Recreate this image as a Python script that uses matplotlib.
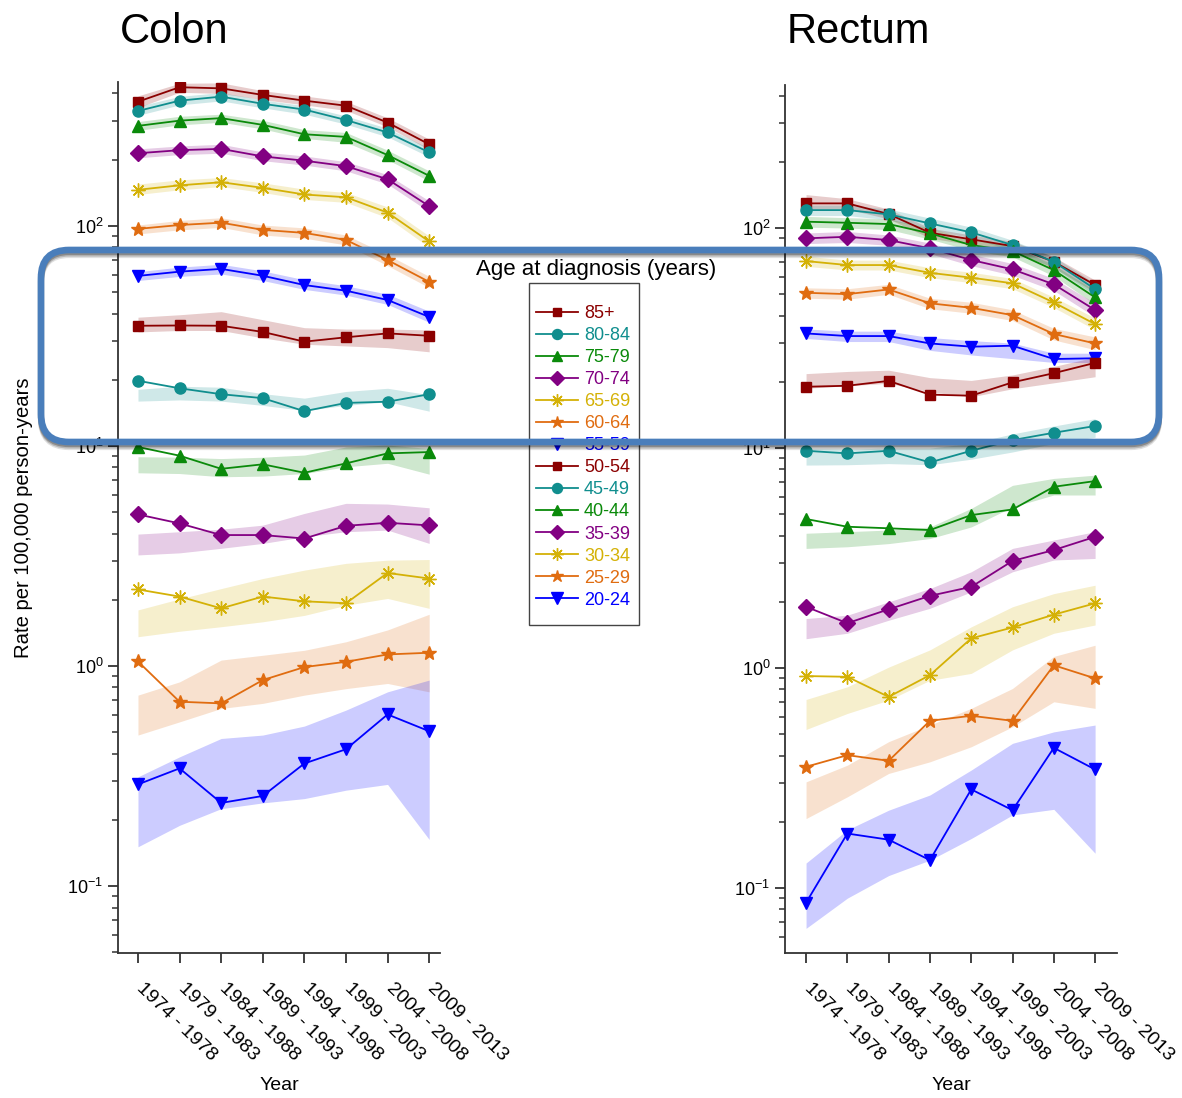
import matplotlib
matplotlib.use("Agg")
import matplotlib.pyplot as plt
import matplotlib.transforms as mtransforms
from matplotlib.patches import FancyBboxPatch, Rectangle
from matplotlib.ticker import LogLocator, NullFormatter

plt.rcParams["font.family"] = ["Liberation Sans", "DejaVu Sans"]

# -------------------------
# Data (rate per 100,000)
# -------------------------
periods = ["1974 - 1978", "1979 - 1983", "1984 - 1988", "1989 - 1993",
           "1994 - 1998", "1999 - 2003", "2004 - 2008", "2009 - 2013"]

ages = ["85+", "80-84", "75-79", "70-74", "65-69", "60-64", "55-59",
        "50-54", "45-49", "40-44", "35-39", "30-34", "25-29", "20-24"]

colon_rate = [
    [367, 427, 422, 394, 371, 352, 295, 235],        # 85+
    [333, 371, 387, 359, 338, 303, 266, 216],        # 80-84
    [285, 301, 309, 288, 261, 254, 210, 169],        # 75-79
    [214, 221, 224, 207, 198, 187, 163, 123],        # 70-74
    [146, 153, 158, 149, 139, 135, 115, 85],         # 65-69
    [97, 101, 103.5, 96, 93, 86.4, 70, 55.7],        # 60-64
    [59.3, 62, 63.8, 59.4, 53.9, 50.8, 46.1, 38.6],  # 55-59
    [35.2, 35.3, 35.2, 33.0, 29.8, 31.2, 32.5, 31.7],  # 50-54
    [19.8, 18.3, 17.2, 16.5, 14.4, 15.7, 15.9, 17.2],  # 45-49
    [9.9, 9.04, 7.88, 8.26, 7.56, 8.34, 9.26, 9.39],   # 40-44
    [4.89, 4.45, 3.94, 3.94, 3.80, 4.34, 4.48, 4.36],  # 35-39
    [2.23, 2.07, 1.83, 2.07, 1.97, 1.93, 2.65, 2.50],  # 30-34
    [1.05, 0.689, 0.677, 0.864, 0.99, 1.046, 1.13, 1.15],  # 25-29
    [0.290, 0.343, 0.239, 0.257, 0.361, 0.419, 0.603, 0.506],  # 20-24
]
colon_lo = [
    [345, 405, 400, 375, 355, 335, 282, 222],
    [318, 355, 370, 344, 322, 290, 254, 206],
    [272, 288, 296, 276, 250, 240, 200, 160],
    [204, 211, 214, 198, 189, 178, 155, 116],
    [139, 146, 151, 142, 132, 128, 109, 80],
    [92, 96, 98.5, 91, 88, 82, 66, 52.5],
    [56.5, 59, 60.5, 56.5, 51.5, 48.5, 44, 36.5],
    [33, 33.5, 33.5, 31, 29, 28.5, 28, 26.8],
    [16.0, 16.2, 16.0, 15.3, 14.5, 15.3, 15.9, 14.4],
    [7.56, 7.5, 7.25, 7.3, 7.5, 8.05, 8.35, 7.45],
    [3.20, 3.27, 3.43, 3.61, 3.87, 4.08, 4.15, 3.61],
    [1.36, 1.44, 1.51, 1.59, 1.70, 1.89, 2.03, 1.83],
    [0.486, 0.558, 0.642, 0.677, 0.738, 0.79, 0.834, 0.764],
    [0.151, 0.189, 0.225, 0.239, 0.250, 0.273, 0.290, 0.163],
]
colon_hi = [
    [390, 445, 447, 412, 390, 368, 310, 248],
    [350, 388, 404, 374, 352, 316, 278, 226],
    [298, 315, 322, 302, 274, 266, 221, 178],
    [224, 231, 235, 217, 208, 196, 171, 130],
    [155, 162, 166, 157, 147, 142, 122, 90],
    [101, 106, 109, 101, 98, 91, 74, 59],
    [62, 65, 67, 62.5, 57, 53.5, 49, 41],
    [38.5, 39.5, 40.8, 37.5, 34.5, 34, 34, 33.7],
    [18.1, 18.7, 18.5, 17.3, 16.5, 17.7, 18.3, 17.1],
    [8.94, 8.9, 8.77, 8.9, 9.1, 9.9, 10.1, 9.75],
    [3.98, 4.08, 4.19, 4.37, 4.94, 5.49, 5.45, 5.24],
    [1.80, 2.02, 2.25, 2.50, 2.73, 2.93, 3.03, 3.05],
    [0.738, 0.848, 1.065, 1.12, 1.18, 1.29, 1.46, 1.72],
    [0.314, 0.387, 0.469, 0.486, 0.534, 0.631, 0.764, 0.864],
]

rectum_rate = [
    [129.5, 129.5, 115.8, 95.2, 88.9, 82.8, 70.3, 55.1],
    [120.7, 120.7, 115.4, 105, 95.6, 83.7, 70.3, 52.8],
    [106.9, 105.7, 104.3, 94.6, 83.7, 78.6, 64.4, 48.4],
    [89.8, 91.3, 88.2, 80.9, 71.6, 64.9, 55.5, 42.4],
    [70.8, 67.9, 67.9, 62.6, 59.5, 56.1, 45.9, 36.6],
    [50.8, 50.1, 52.6, 45.5, 43.4, 40.2, 33.0, 29.9],
    [33.2, 32.3, 32.3, 29.9, 28.9, 29.2, 25.4, 25.6],
    [19.0, 19.2, 20.2, 17.5, 17.3, 19.9, 21.9, 24.4],
    [9.72, 9.46, 9.72, 8.61, 9.72, 10.87, 11.74, 12.6],
    [4.76, 4.39, 4.32, 4.24, 4.96, 5.26, 6.67, 7.08],
    [1.90, 1.60, 1.85, 2.13, 2.34, 3.07, 3.44, 3.95],
    [0.92, 0.913, 0.74, 0.929, 1.365, 1.53, 1.75, 1.97],
    [0.356, 0.402, 0.379, 0.576, 0.607, 0.576, 1.03, 0.898],
    [0.0858, 0.177, 0.166, 0.134, 0.281, 0.226, 0.434, 0.346],
]
rectum_lo = [
    [122, 122, 110, 90, 84, 78, 66, 51],
    [114, 114, 109, 99, 90, 79, 66, 49.5],
    [101, 100, 98.5, 89, 79, 74, 60.5, 45],
    [85, 86, 83.5, 76.5, 67.5, 61, 52, 39.5],
    [67, 64.5, 64.5, 59.5, 56.5, 53, 43.5, 34.5],
    [48, 47.5, 50, 43, 41, 38, 31, 28],
    [31.5, 30.5, 30.5, 27.8, 26.5, 25.5, 24.5, 24.5],
    [18.7, 19.2, 19.7, 18, 17.1, 18.6, 19.8, 21.1],
    [8.37, 8.4, 8.5, 8.4, 8.9, 9.6, 10.5, 11.2],
    [3.50, 3.56, 3.68, 3.88, 4.38, 5.40, 6.12, 6.12],
    [1.36, 1.44, 1.65, 1.87, 2.22, 2.74, 3.10, 3.15],
    [0.526, 0.622, 0.715, 0.88, 0.946, 1.21, 1.44, 1.57],
    [0.207, 0.260, 0.332, 0.375, 0.439, 0.541, 0.703, 0.656],
    [0.0656, 0.090, 0.114, 0.134, 0.168, 0.215, 0.228, 0.144],
]
rectum_hi = [
    [142, 136, 122, 100, 93, 87, 74, 58],
    [127, 127, 122, 111, 101, 88, 74, 56],
    [113, 111.5, 110, 100, 88.5, 83, 68, 52],
    [95, 96.5, 93, 85.5, 76, 69, 59, 45.5],
    [74.5, 71.5, 71.5, 66, 63, 59, 48.5, 39],
    [53.5, 53, 55.5, 48, 46, 42.5, 35, 32],
    [34.8, 34, 34, 31.8, 30.8, 30, 27, 27],
    [21.8, 22.3, 22.6, 20.9, 20.3, 21.5, 23.5, 25.9],
    [9.95, 9.9, 10.0, 10.0, 10.5, 11.6, 12.6, 13.6],
    [4.10, 4.17, 4.24, 4.38, 5.32, 6.77, 7.28, 7.53],
    [1.68, 1.74, 2.00, 2.30, 2.74, 3.50, 3.82, 4.17],
    [0.72, 0.822, 1.01, 1.21, 1.54, 1.90, 2.18, 2.38],
    [0.304, 0.362, 0.463, 0.551, 0.656, 0.808, 1.13, 1.27],
    [0.130, 0.184, 0.226, 0.265, 0.344, 0.455, 0.513, 0.551],
]

# -------------------------
# Styles
# -------------------------
base_colors = ["#8b0000", "#108e8e", "#0a8a0a", "#820082", "#d4b106",
               "#e06c10", "#0000ff"]
base_markers = ["s", "o", "^", "D", (8, 2, 0), "*", "v"]
base_sizes = [7, 8, 8, 8, 10, 10, 9]
colors = base_colors * 2
markers = base_markers * 2
msizes = base_sizes * 2

x = list(range(len(periods)))

# -------------------------
# Plot
# -------------------------
fig = plt.figure(figsize=(11.82, 10.98), dpi=100)

ax_c = fig.add_axes([118 / 1182, 1 - 953 / 1098, 322 / 1182, 871 / 1098])
ax_r = fig.add_axes([785 / 1182, 1 - 953 / 1098, 332 / 1182, 868 / 1098])

label_shift = mtransforms.ScaledTranslation(7 / 100, 0, fig.dpi_scale_trans)


def draw_panel(ax, rate, lo, hi, ylim, xlim):
    for i, age in enumerate(ages):
        c = colors[i]
        ax.fill_between(x, lo[i], hi[i], color=c, alpha=0.2, linewidth=0, zorder=1)
        ax.plot(x, rate[i], color=c, marker=markers[i], markersize=msizes[i],
                markeredgecolor=c, markerfacecolor=c, linewidth=1.3,
                label=age, zorder=3)
    ax.set_yscale("log")
    ax.set_ylim(*ylim)
    ax.set_xlim(*xlim)
    ax.yaxis.set_major_locator(LogLocator(base=10))
    ax.yaxis.set_minor_locator(LogLocator(base=10, subs=range(2, 10)))
    ax.yaxis.set_minor_formatter(NullFormatter())
    for s in ["top", "right"]:
        ax.spines[s].set_visible(False)
    for s in ["left", "bottom"]:
        ax.spines[s].set_linewidth(1.3)
        ax.spines[s].set_color("#333333")
    ax.set_xticks(x)
    ax.set_xticklabels(periods, rotation=-44, ha="left", va="top",
                       rotation_mode="anchor", fontsize=14)
    ax.tick_params(axis="x", length=7, width=1.3, pad=12, color="#333333")
    ax.tick_params(axis="y", which="major", length=7, width=1.3,
                   labelsize=13, color="#333333")
    ax.tick_params(axis="y", which="minor", length=4, width=1.1,
                   color="#333333")
    # nudge the slanted period labels right, as in the original
    for lab in ax.get_xticklabels():
        lab.set_transform(lab.get_transform() + label_shift)
    ax.set_xlabel("Year", fontsize=14, labelpad=9)


draw_panel(ax_c, colon_rate, colon_lo, colon_hi, (0.0497, 451), (-0.48, 7.26))
draw_panel(ax_r, rectum_rate, rectum_lo, rectum_hi, (0.0507, 447), (-0.51, 7.53))

ax_c.set_ylabel("Rate per 100,000 person-years", fontsize=14.6, labelpad=25)

fig.text(120 / 1182, 1 - 43 / 1098, "Colon", fontsize=30, va="baseline")
fig.text(787 / 1182, 1 - 43 / 1098, "Rectum", fontsize=30, va="baseline")

# legend: frame drawn separately so the padding matches
fig.add_artist(Rectangle((529 / 1182, 1 - 625 / 1098), 110 / 1182, 342 / 1098,
                         transform=fig.transFigure, facecolor="white",
                         edgecolor="#444444", linewidth=1.0, zorder=4))
handles, labels = ax_c.get_legend_handles_labels()
leg = fig.legend(handles, labels, loc="upper left",
                 bbox_to_anchor=(536 / 1182, 1 - 305 / 1098),
                 borderaxespad=0, borderpad=0, fontsize=13, frameon=False,
                 handlelength=2.3, handletextpad=0.35, labelspacing=0.28,
                 markerscale=0.9)
leg.set_zorder(5)
for txt, c in zip(leg.get_texts(), colors):
    txt.set_color(c)
fig.text(596 / 1182, 1 - 270 / 1098, "Age at diagnosis (years)",
         fontsize=16, ha="center", va="center")

# highlight box overlay
ov = fig.add_axes([0, 0, 1, 1], zorder=10)
ov.set_xlim(0, 1182)
ov.set_ylim(1098, 0)
ov.axis("off")
ov.patch.set_alpha(0)
for off, a in [(5, 0.12), (3.5, 0.18), (2, 0.25)]:
    ov.add_patch(FancyBboxPatch((41, 250 + off), 1118, 192,
                                boxstyle="round,pad=0,rounding_size=28",
                                fill=False, edgecolor="black", alpha=a,
                                linewidth=4.5))
ov.add_patch(FancyBboxPatch((41, 250), 1118, 192,
                            boxstyle="round,pad=0,rounding_size=28",
                            fill=False, edgecolor="#4a7ebb", linewidth=4.8))

fig.savefig("out.png", dpi=100)
plt.close(fig)
